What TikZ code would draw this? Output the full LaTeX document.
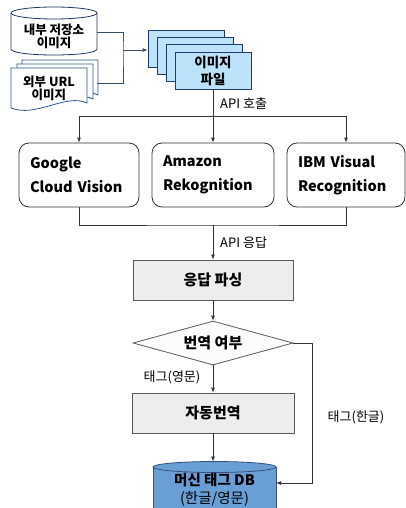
\documentclass[tikz,border=0pt]{standalone}
\usepackage{fontspec}
\setmainfont{Noto Sans CJK KR}
\usetikzlibrary{arrows.meta,shapes.geometric}
\definecolor{lineC}{HTML}{333333}
\definecolor{lineB}{HTML}{3A4F6A}
\definecolor{imgF}{HTML}{BDE3FA}
\definecolor{imgD}{HTML}{1F3B6B}
\definecolor{cylD}{HTML}{203864}
\definecolor{docD}{HTML}{2F5597}
\definecolor{dbF}{HTML}{6A9FD5}
\definecolor{dbD}{HTML}{34507A}
\definecolor{grayF}{HTML}{EDEDED}
\definecolor{grayD}{HTML}{5A5A5A}
\tikzset{
  conn/.style={draw=lineC, line width=0.8pt},
  arr/.style={conn, -{Latex[length=5pt,width=4pt]}},
  imgbox/.style={draw=imgD, fill=imgF, line width=0.8pt, minimum width=76pt, minimum height=37pt, inner sep=0pt, align=center, font=\bfseries\fontsize{13.5}{17}\selectfont},
  apibox/.style={draw=lineC, fill=white, line width=0.8pt, rounded corners=10pt, minimum height=64pt, inner xsep=11pt, align=left, font=\bfseries\fontsize{14.5}{23.5}\selectfont},
  graybox/.style={draw=grayD, fill=grayF, line width=0.8pt, minimum height=40pt, inner sep=0pt, align=center, font=\bfseries\fontsize{15}{18}\selectfont},
  txt/.style={inner sep=0pt, align=center, font=\bfseries\fontsize{12.5}{14}\selectfont},
  lbl/.style={inner sep=0pt, font=\fontsize{13}{15}\selectfont},
}
\begin{document}
\begin{tikzpicture}[x=1pt,y=-1pt]
\useasboundingbox (0,0) rectangle (406,508);
\fill[white] (0,0) rectangle (406,508);

% internal storage cylinder
\draw[draw=cylD, line width=0.8pt, fill=white] (11,13) -- (11,49) .. controls (11,57) and (97,57) .. (97,49) -- (97,13);
\draw[draw=cylD, line width=0.8pt, fill=white] (54,13) ellipse [x radius=43, y radius=6];
\node[txt] (int) at (54,36) {내부 저장소\\[-1pt]이미지};
\coordinate (intR) at (97,32);

% external URL document stack
\foreach \dx/\dy in {22/60, 17/64, 11/68}{
  \draw[draw=docD, line width=0.8pt, fill=white] (\dx,\dy) -- ++(76,0) -- ++(0,35)
    .. controls ++(-21,-10) and ++(25,10) .. ++(-76,5) -- cycle;
}
\node[txt] (ext) at (49,88) {외부 URL\\[-1pt]이미지};
\coordinate (extR) at (97,83);

% image file stack
\node[imgbox] (imgA) at (186,48.5) {};
\node[imgbox] (imgB) at (195,56) {};
\node[imgbox] (imgC) at (204,63) {};
\node[imgbox] (img) at (213,70.5) {이미지\\파일};

\coordinate (j1) at (123,50);
\draw[draw=lineB, line width=0.8pt] (intR) -| (j1) |- (extR);
\draw[draw=lineB, line width=0.8pt, -{Latex[length=5pt,width=4pt]}] (j1) -- (j1 -| imgA.west);

% API boxes
\node[apibox, text width=98pt] (google) at (79,175) {Google\\Cloud Vision};
\node[apibox, text width=100pt] (amazon) at (213,175) {Amazon\\Rekognition};
\node[apibox, text width=96pt] (ibm) at (346,175) {IBM Visual\\Recognition};

\coordinate (apiTop) at (213,116);
\draw[conn] (img.south) -- (apiTop);
\draw[conn] (google.north |- apiTop) -- (ibm.north |- apiTop);
\draw[arr] (google.north |- apiTop) -- (google.north);
\draw[arr] (apiTop) -- (amazon.north);
\draw[arr] (ibm.north |- apiTop) -- (ibm.north);
\node[lbl, anchor=west] (l1) at (220,104) {API 호출};

% merge
\node[graybox, minimum width=160pt] (parse) at (213,280) {응답 파싱};
\coordinate (mrg) at (213,225);
\draw[conn] (google.south) |- (mrg) -| (ibm.south);
\draw[arr] (mrg) -- (parse.north);
\node[lbl, anchor=west] (l2) at (220,243) {API 응답};

% decision
\node[diamond, aspect=3.64, draw=grayD, fill=grayF!92!black!8, line width=0.8pt, minimum width=160pt, minimum height=44pt, inner sep=0pt, font=\bfseries\fontsize{15}{18}\selectfont] (dec) at (213,343) {번역 여부};
\draw[arr] (parse.south) -- (dec.north);

\node[graybox, minimum width=162pt] (trans) at (213,413) {자동번역};
\draw[arr] (dec.south) -- (trans.north);
\node[lbl, anchor=center] (l3) at (172,377) {태그(영문)};

% DB cylinder
\draw[draw=dbD, line width=0.8pt, fill=dbF] (153,467) -- (153,520) -- (276,520) -- (276,467);
\draw[draw=dbD, line width=0.8pt, fill=dbF] (214.5,467) ellipse [x radius=61.5, y radius=5.5];
\node[inner sep=0pt, align=center, font=\fontsize{14.5}{17.5}\selectfont] (db) at (214.5,490) {\textbf{머신 태그 DB}\\(한글/영문)};
\coordinate (dbTop) at (213,461.5);
\coordinate (dbR) at (276,483);
\draw[arr] (trans.south) -- (dbTop);

\coordinate (c1) at (312,343);
\draw[arr] (dec.east) -- (c1) |- (dbR);
\node[lbl] (l4) at (356,417) {태그(한글)};
\end{tikzpicture}
\end{document}
